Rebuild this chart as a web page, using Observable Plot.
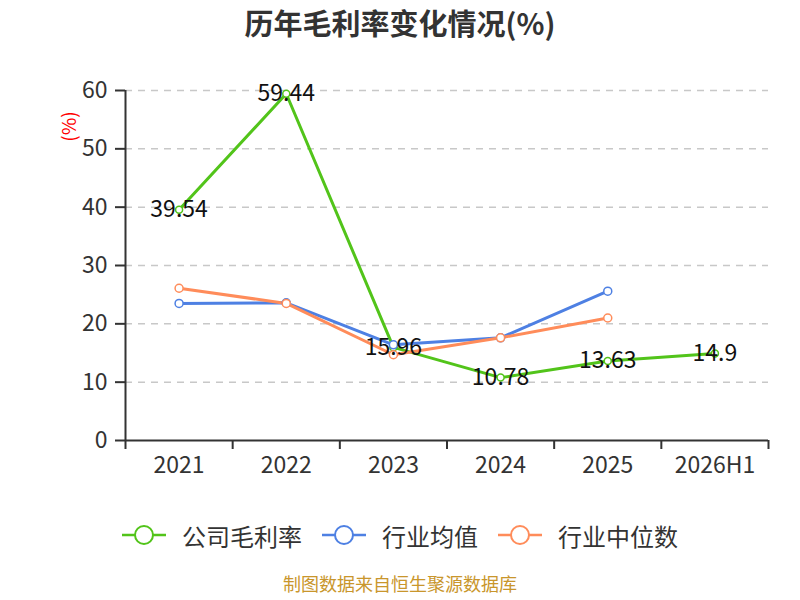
<!DOCTYPE html>
<html><head><meta charset="utf-8">
<script src="https://cdn.jsdelivr.net/npm/d3@7"></script>
<script src="https://cdn.jsdelivr.net/npm/@observablehq/plot@0.6"></script>
<style>
body{margin:0;width:800px;height:600px;background:#fff;font-family:"Noto Sans CJK SC","Noto Sans",sans-serif;overflow:hidden}
#title{height:50px;line-height:44px;text-align:center;font-size:29px;font-weight:bold;color:#333}
#chart{height:430px}
#legend{margin-top:38px;height:34px;display:flex;justify-content:center;align-items:center;gap:20px;font-size:24px;color:#333}
#legend .item{display:flex;align-items:center;gap:16px}
#caption{margin-top:18px;text-align:center;font-size:18px;color:#c9962c}
</style></head><body>
<div id="title">历年毛利率变化情况(%)</div>
<div id="chart"></div>
<div id="legend"></div>
<div id="caption">制图数据来自恒生聚源数据库</div>
<script>
const categories = ["2021","2022","2023","2024","2025","2026H1"];
const company = [39.54,59.44,15.96,10.78,13.63,14.9];
const industryAvg = [23.5,23.6,16.4,17.6,25.6,null];
const industryMedian = [26.1,23.5,14.7,17.6,21.0,null];
const yTicks = [0,10,20,30,40,50,60];
const seriesNames = ["公司毛利率","行业均值","行业中位数"];
const seriesColors = ["#52c41a","#4e80e3","#ff8c5a"];

const toRows = (vals) => vals.map((v,i)=>({i, v})).filter(d => d.v != null);
const compRows = toRows(company);
const avgRows = toRows(industryAvg);
const medRows = toRows(industryMedian);

const chart = Plot.plot({
  width: 800,
  height: 430,
  marginTop: 40,
  marginBottom: 40,
  marginLeft: 125,
  marginRight: 32,
  style: {fontFamily: '"Noto Sans CJK SC","Noto Sans",sans-serif', color: "#333", background: "#fff"},
  x: {type: "linear", domain: [-0.5, 5.5]},
  y: {domain: [0, 60]},
  marks: [
    Plot.ruleY(yTicks.filter(v => v > 0), {stroke: "#c8c8c8", strokeWidth: 1.5, strokeDasharray: "7,6"}),
    Plot.axisY({ticks: yTicks, tickSize: 10, tickPadding: 8, fontSize: 23, label: null, strokeWidth: 2}),
    Plot.axisX({ticks: d3.range(6), tickSize: 0, tickPadding: 16, fontSize: 23, label: null, tickFormat: i => categories[i]}),
    Plot.axisX({ticks: d3.range(-0.5, 6, 1), tickSize: 9, tickFormat: () => "", label: null, strokeWidth: 2}),
    Plot.ruleY([0], {stroke: "#333", strokeWidth: 2}),
    Plot.ruleX([-0.5], {stroke: "#333", strokeWidth: 2}),
    Plot.text(["(%)"], {frameAnchor: "top-left", textAnchor: "middle", dx: -63, dy: 36, rotate: -90, fill: "red", fontSize: 19}),
    Plot.line(compRows, {x: "i", y: "v", stroke: seriesColors[0], strokeWidth: 3}),
    Plot.line(avgRows, {x: "i", y: "v", stroke: seriesColors[1], strokeWidth: 3}),
    Plot.line(medRows, {x: "i", y: "v", stroke: seriesColors[2], strokeWidth: 3}),
    Plot.dot(compRows, {x: "i", y: "v", r: 3.5, fill: "#fff", stroke: seriesColors[0], strokeWidth: 1.5}),
    Plot.dot(avgRows, {x: "i", y: "v", r: 4, fill: "#fff", stroke: seriesColors[1], strokeWidth: 1.5}),
    Plot.dot(medRows, {x: "i", y: "v", r: 4, fill: "#fff", stroke: seriesColors[2], strokeWidth: 1.5}),
    Plot.text(compRows, {x: "i", y: "v", text: d => String(d.v), fontSize: 23, fill: "#111"})
  ]
});
document.getElementById("chart").appendChild(chart);

const legend = document.getElementById("legend");
seriesNames.forEach((name, k) => {
  const item = document.createElement("div");
  item.className = "item";
  item.innerHTML = `<svg width="44" height="24"><line x1="0" y1="12" x2="44" y2="12" stroke="${seriesColors[k]}" stroke-width="2.5"/><circle cx="22" cy="12" r="9" fill="#fff" stroke="${seriesColors[k]}" stroke-width="2"/></svg><span>${name}</span>`;
  legend.appendChild(item);
});
</script>
</body></html>
